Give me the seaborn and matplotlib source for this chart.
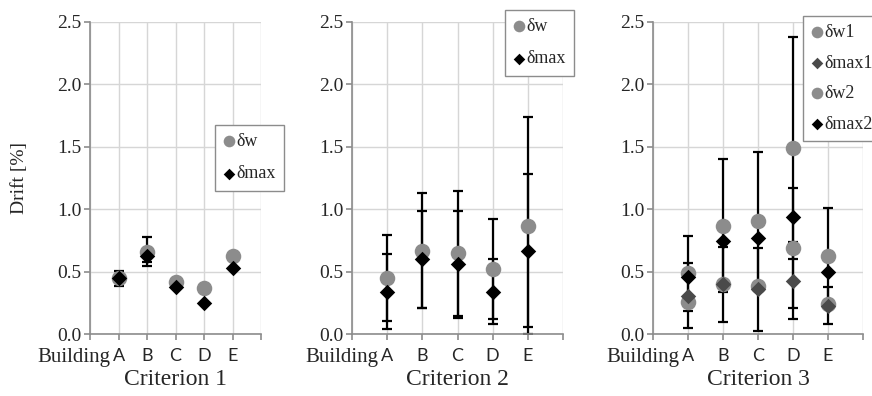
import numpy as np
import pandas as pd
import matplotlib
matplotlib.use('Agg')
import matplotlib.pyplot as plt
import seaborn as sns

# --- DATA ---
buildings = ['A', 'B', 'C', 'D', 'E']
titles = ['Criterion 1', 'Criterion 2', 'Criterion 3']

# Criterion 1
c1_w = [0.45, 0.66, 0.42, 0.37, 0.63]
c1_w_err = [0.06, 0.115, 0.0, 0.0, 0.0]
c1_max = [0.45, 0.63, 0.38, 0.25, 0.53]
c1_max_err = [0.03, 0.05, 0.0, 0.0, 0.0]

# Criterion 2
c2_w = [0.45, 0.67, 0.65, 0.525, 0.87]
c2_w_err = [0.345, 0.46, 0.50, 0.40, 0.87]
c2_max = [0.34, 0.60, 0.56, 0.34, 0.67]
c2_max_err = [0.30, 0.39, 0.43, 0.26, 0.61]

# Criterion 3
c3_w1 = [0.26, 0.40, 0.39, 0.69, 0.24]
c3_w1_err = [0.0, 0.0, 0.0, 0.48, 0.0]
c3_max1 = [0.31, 0.40, 0.36, 0.43, 0.23]
c3_max1_err = [0.26, 0.30, 0.33, 0.31, 0.15]
c3_w2 = [0.49, 0.87, 0.91, 1.49, 0.63]
c3_w2_err = [0.30, 0.53, 0.55, 0.89, 0.38]
c3_max2 = [0.46, 0.75, 0.77, 0.94, 0.50]
c3_max2_err = [0.0, 0.0, 0.0, 0.0, 0.0]

GRAY = '#8c8c8c'
DARK = '#4a4a4a'
BLACK = '#000000'
SERIF = 'Liberation Serif'

# (label, values, errors, marker, color)
panels = [
    [('δw', c1_w, c1_w_err, 'o', GRAY), ('δmax', c1_max, c1_max_err, 'D', BLACK)],
    [('δw', c2_w, c2_w_err, 'o', GRAY), ('δmax', c2_max, c2_max_err, 'D', BLACK)],
    [('δw1', c3_w1, c3_w1_err, 'o', GRAY), ('δmax1', c3_max1, c3_max1_err, 'D', DARK),
     ('δw2', c3_w2, c3_w2_err, 'o', GRAY), ('δmax2', c3_max2, c3_max2_err, 'D', BLACK)],
]

# axes placement (figure fractions) and legend anchors
axes_rect = [
    [90 / 872, 61.7 / 396, 171 / 872, 312.5 / 396],
    [352 / 872, 61.7 / 396, 211 / 872, 312.5 / 396],
    [653 / 872, 61.7 / 396, 210 / 872, 312.5 / 396],
]
legend_anchor = [(215 / 872, 1 - 125 / 396), (505 / 872, 1 - 10 / 396), (803 / 872, 1 - 16 / 396)]
legend_spacing = [0.85, 0.85, 0.75]

sns.set_style('whitegrid')
plt.rcParams['font.family'] = [SERIF, 'DejaVu Serif']

fig = plt.figure(figsize=(8.72, 3.96), dpi=100)

for i, series in enumerate(panels):
    ax = fig.add_axes(axes_rect[i])
    pos = np.arange(1, len(buildings) + 1)

    for label, vals, errs, marker, color in series:
        df = pd.DataFrame({'pos': pos, 'value': vals, 'err': errs})
        has_err = df[df['err'] > 0]
        if len(has_err):
            ax.errorbar(has_err['pos'], has_err['value'], yerr=has_err['err'],
                        fmt='none', ecolor='black', elinewidth=1.6,
                        capsize=3.5, capthick=1.6, zorder=2)
        sns.scatterplot(data=df, x='pos', y='value', ax=ax, marker=marker,
                        color=color, s=125 if marker == 'o' else 62,
                        linewidth=0, label=label, zorder=3)

    ax.set_xlim(0, 6)
    ax.set_ylim(0, 2.5)
    ax.set_xticks(range(0, 7))
    ax.set_xticklabels([''] + buildings + [''], family='Lato', fontsize=13)
    ax.set_yticks(np.arange(0, 2.51, 0.5))
    ax.set_yticklabels([f'{v:.1f}' for v in np.arange(0, 2.51, 0.5)], fontsize=14)
    ax.grid(True, color='#d6d6d6', linewidth=1)
    ax.set_axisbelow(True)
    for side in ['top', 'right']:
        ax.spines[side].set_visible(False)
    for side in ['left', 'bottom']:
        ax.spines[side].set_color('#8c8c8c')
        ax.spines[side].set_linewidth(1.2)
    ax.tick_params(axis='both', length=4, color='#8c8c8c', width=1.2,
                   direction='out', left=True, bottom=True)
    ax.tick_params(axis='x', pad=6)
    ax.tick_params(axis='y', pad=2)

    ax.annotate('Building', xy=(1, 0), xycoords=('data', 'axes fraction'),
                xytext=(-6, -16.5), textcoords='offset points',
                ha='right', va='center', fontsize=15)

    ax.set_xlabel(titles[i], fontsize=17)
    ax.xaxis.label.set_va('center')
    ax.xaxis.set_label_coords(0.5, -0.146)
    if i == 0:
        ax.set_ylabel('Drift [%]', fontsize=14)
        ax.yaxis.label.set_va('center')
        ax.yaxis.set_label_coords(-0.41, 0.5)
    else:
        ax.set_ylabel('')

    ax.legend(loc='upper left', bbox_to_anchor=legend_anchor[i],
              bbox_transform=fig.transFigure, frameon=True, fancybox=False,
              framealpha=1, edgecolor='#8c8c8c', fontsize=13,
              handletextpad=0.05, handlelength=0.7, labelspacing=legend_spacing[i],
              borderpad=0.45, borderaxespad=0, markerscale=0.75)

fig.savefig('out.png', dpi=100)
